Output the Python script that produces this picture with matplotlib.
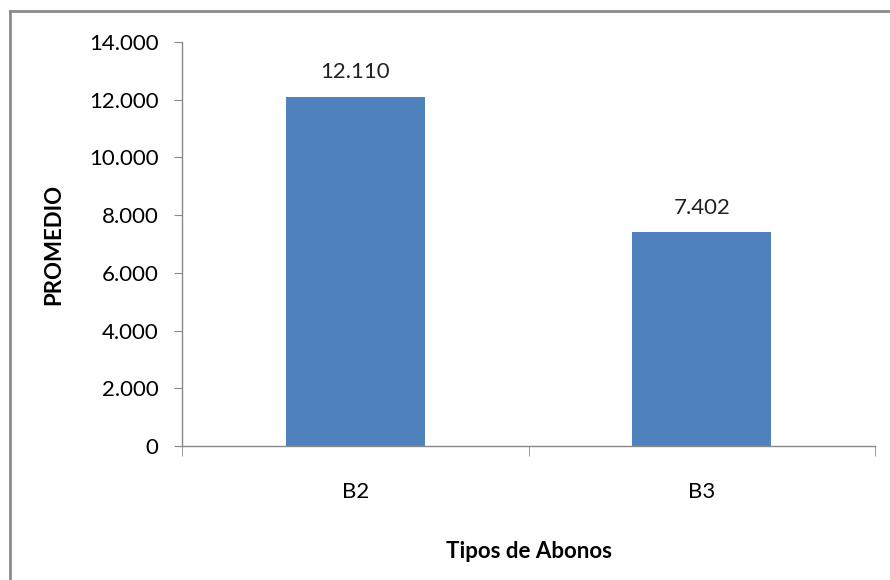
import matplotlib.pyplot as plt
from matplotlib.lines import Line2D
from matplotlib.ticker import FuncFormatter

# promedio por tipo de abono
abonos = ['B2', 'B3']
promedio = [12110, 7402]
yticks = [0, 2000, 4000, 6000, 8000, 10000, 12000, 14000]

plt.rcParams['font.family'] = ['Lato', 'DejaVu Sans']

def miles(v, pos=None):
    # separador de miles con punto
    return f'{int(v):,}'.replace(',', '.')

fig = plt.figure(figsize=(8.9, 5.8), dpi=100)
ax = fig.add_axes([182/890, 1-446/580, (875-182)/890, (446-42)/580])

x = range(len(abonos))
ax.bar(x, promedio, width=0.4, color='#4F81BD', zorder=2)
for xi, v in zip(x, promedio):
    ax.text(xi, v + 500, miles(v), ha='center', va='bottom', fontsize=16, color='#222222')

ax.set_xlim(-0.5, 1.5)
ax.set_ylim(0, 14000)
ax.set_yticks(yticks)
ax.yaxis.set_major_formatter(FuncFormatter(miles))
ax.set_xticks(list(x))
ax.set_xticklabels(abonos)
ax.set_xticks([-0.5, 0.5, 1.5], minor=True)
ax.tick_params(axis='x', which='major', length=0, pad=26, labelsize=16)
ax.tick_params(axis='x', which='minor', length=7, color='#888888', direction='out')
ax.tick_params(axis='y', length=6, color='#888888', labelsize=16, pad=11)

for s in ['top', 'right']:
    ax.spines[s].set_visible(False)
for s in ['left', 'bottom']:
    ax.spines[s].set_color('#888888')
    ax.spines[s].set_linewidth(1.0)

ax.set_ylabel('PROMEDIO', fontsize=16, fontweight='bold', labelpad=18)
ax.set_xlabel('Tipos de Abonos', fontsize=16, fontweight='bold', labelpad=28)

# marco del grafico (solo arriba e izquierda)
fig.add_artist(Line2D([10/890, 10/890], [0, 1-11/580], transform=fig.transFigure,
                      color='#8a8a8a', lw=2))
fig.add_artist(Line2D([10/890, 1], [1-11/580, 1-11/580], transform=fig.transFigure,
                      color='#8a8a8a', lw=2))

fig.savefig('out.png', dpi=100)
